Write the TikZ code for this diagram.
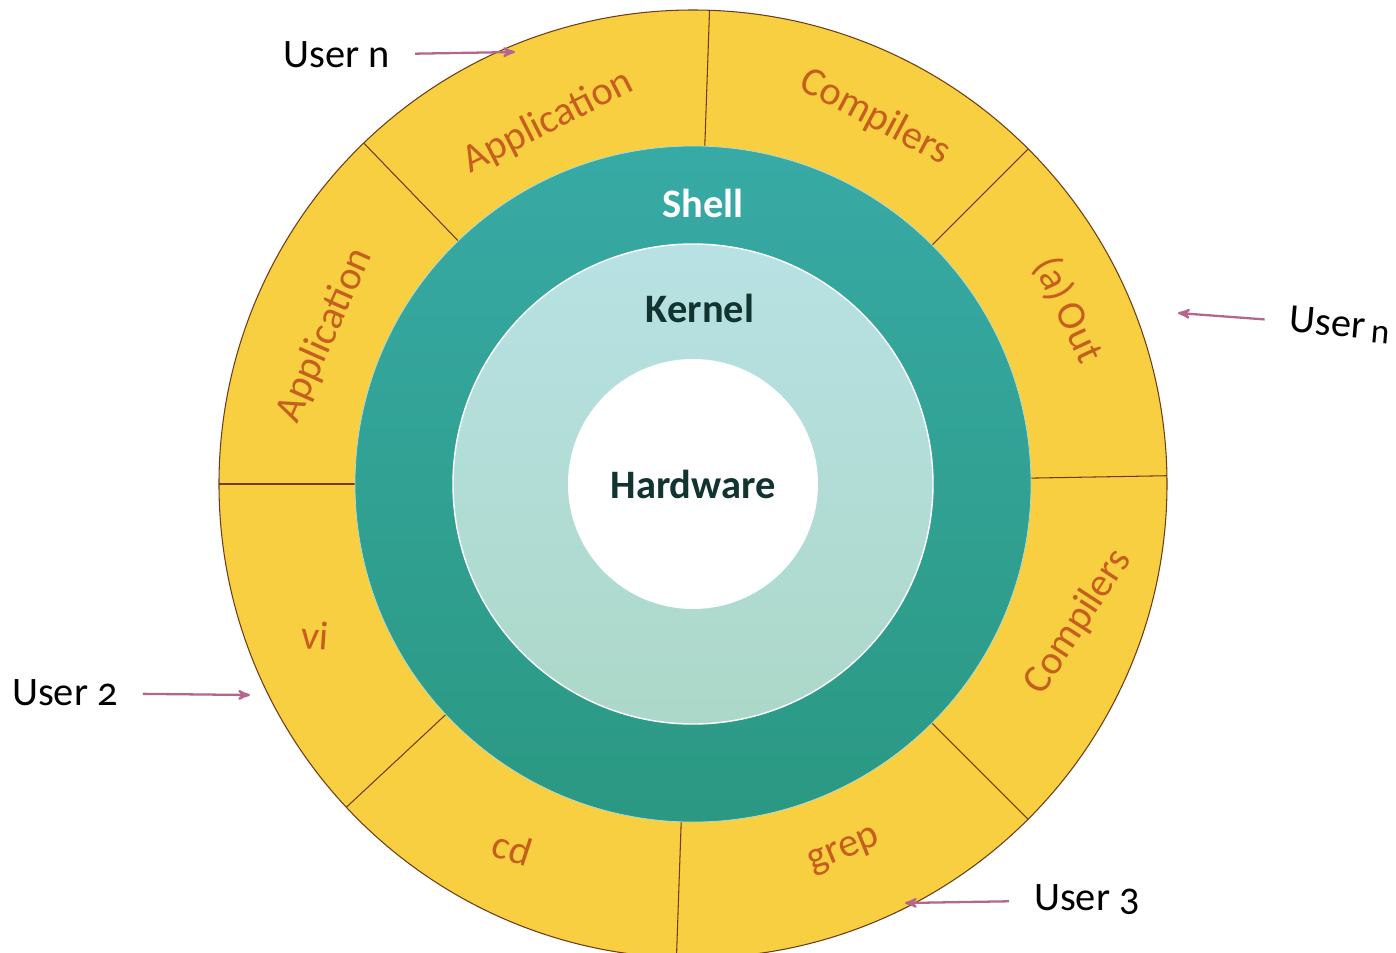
\documentclass[tikz,border=0pt]{standalone}
\usepackage{fontspec}
\setmainfont{Carlito}
\usetikzlibrary{arrows}

\definecolor{ringyellow}{RGB}{249,207,66}
\definecolor{ringline}{RGB}{110,60,22}
\definecolor{shellteal}{RGB}{56,170,165}
\definecolor{shellblue}{RGB}{62,178,196}
\definecolor{shellgreen}{RGB}{42,152,130}
\definecolor{kernelblue}{RGB}{184,225,228}
\definecolor{kernelgreen}{RGB}{172,216,200}
\definecolor{appbrown}{RGB}{198,94,30}
\definecolor{kerneltext}{RGB}{18,52,48}
\definecolor{userarrow}{RGB}{180,102,140}

\begin{document}
\begin{tikzpicture}[ layer/.style={font={\fontsize{23}{27}\selectfont\bfseries}},
    app/.style={text=appbrown,font={\fontsize{23}{27}\selectfont}},
    user/.style={font={\fontsize{23}{27}\selectfont},inner sep=0pt,outer sep=0.5cm},
    toring/.style={userarrow,line width=1.3pt,->,>=stealth'}]

\useasboundingbox (-13.86,-9.36) rectangle (14.06,9.68);

% rings
\filldraw[fill=ringyellow,draw=ringline,semithick] (0,0) circle (9.48);
\foreach \a in {1,45,88,134,180,223,268,315}
    \draw[ringline,semithick] (\a:6.7)--(\a:9.48);
\shade[top color=shellteal,middle color=shellblue,bottom color=shellgreen] (0,0) circle (6.76);
\draw[white!60!shellteal,thin] (0,0) circle (6.76);
\shade[top color=kernelblue,bottom color=kernelgreen] (0,0) circle (4.8);
\draw[white,thick] (0,0) circle (4.8);
\fill[white] (0,0) circle (2.5);

\node[layer,white] (shell) at (0.2,5.62) {Shell};
\node[layer,kerneltext] (kernel) at (0.14,3.52) {Kernel};
\node[layer,kerneltext] (hardware) at (0,0) {Hardware};

\node[app,rotate=27] (app1) at (111.8:7.8) {Application};
\node[app,rotate=-28] (comp1) at (63.6:8.19) {Compilers};
\node[app,rotate=-65] (aout) at (24.9:8.27) {(a)\,Out};
\node[app,rotate=66] (app2) at (158:7.94) {Application};
\node[app,rotate=-4] (vi) at (201.8:8.14) {vi};
\node[app,rotate=-18] (cd) at (243.6:8.13) {cd};
\node[app,rotate=22] (grep) at (292.4:7.96) {grep};
\node[app,rotate=57] (comp2) at (340.3:8.18) {Compilers};

% users
\node[user] (usern) at (-7.12,8.58) {User n};
\node[user,rotate=-5] (usernr) at (12.94,3.18) {User\,{\fontsize{20}{22}\selectfont\raisebox{-2pt}{n}}};
\node[user] (user2) at (-12.56,-4.18) {User {\addfontfeatures{Numbers=OldStyle}2}};
\node[user] (user3) at (7.88,-8.32) {User {\addfontfeatures{Numbers=OldStyle}3}};

\coordinate (tipn) at (-3.56,8.64);
\coordinate (tipnr) at (9.7,3.42);
\coordinate (tip2) at (-8.86,-4.22);
\coordinate (tip3) at (4.24,-8.38);

\draw[toring] (usern)--(tipn);
\draw[toring] (usernr)--(tipnr);
\draw[toring] (user2)--(tip2);
\draw[toring] (user3)--(tip3);

\end{tikzpicture}
\end{document}
